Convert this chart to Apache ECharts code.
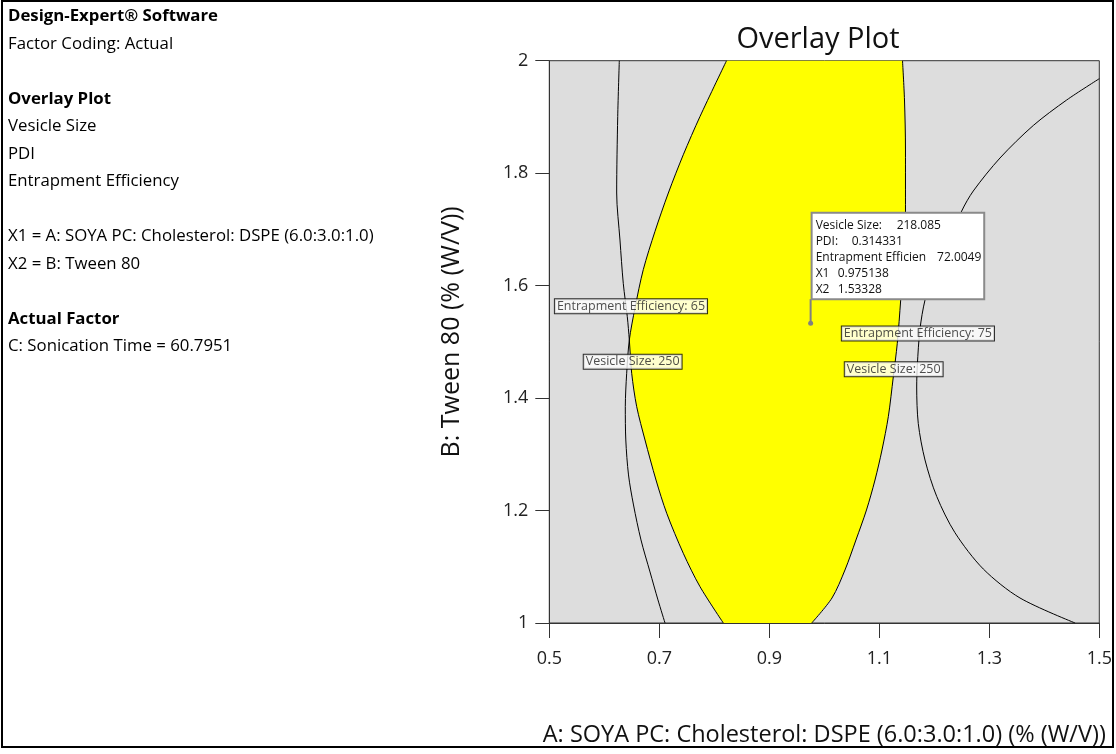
<!DOCTYPE html>
<html><head><meta charset="utf-8">
<script src="https://cdn.jsdelivr.net/npm/echarts/dist/echarts.min.js"></script>
<style>html,body{margin:0;padding:0;background:#fff}#c{width:1116px;height:754px}</style>
</head><body><div id="c"></div>
<script>
// ---------- data ----------
const xTickValues = [0.5, 0.7, 0.9, 1.1, 1.3, 1.5];
const yTickValues = [1, 1.2, 1.4, 1.6, 1.8, 2];

// far-left contour: upper part (top edge down to the crossing point)
const outerLeftUpper = [
  [0.6273, 2.0], [0.6244, 1.9008], [0.6225, 1.7647], [0.6285, 1.6811], [0.6345, 1.6041],
  [0.6418, 1.5447], [0.6455, 1.5033]
];
// far-left contour: lower part (crossing point down to the bottom edge)
const outerLeftLower = [
  [0.6455, 1.5033], [0.6407, 1.4441], [0.6382, 1.3847], [0.6391, 1.3255], [0.6440, 1.2633],
  [0.6531, 1.2099], [0.6667, 1.1477], [0.6831, 1.0908], [0.6976, 1.0410], [0.7104, 1.0]
];
// left edge of the yellow region: upper part
const feasibleLeftUpper = [
  [0.8222, 2.0], [0.7740, 1.9008], [0.7436, 1.8327], [0.7164, 1.7647], [0.6922, 1.6966],
  [0.6709, 1.6285], [0.6558, 1.5602], [0.6455, 1.5033]
];
// left edge of the yellow region: lower part
const feasibleLeftLower = [
  [0.6455, 1.5033], [0.6498, 1.4441], [0.6589, 1.3847], [0.6740, 1.3255], [0.6940, 1.2543],
  [0.7135, 1.1951], [0.7436, 1.1240], [0.7740, 1.0646], [0.8164, 1.0]
];
// right edge of the yellow region
const feasibleRight = [
  [1.1422, 2.0], [1.1458, 1.9301], [1.1476, 1.8412], [1.1476, 1.7309], [1.1440, 1.6456],
  [1.1389, 1.5744], [1.1327, 1.4974], [1.1255, 1.4380], [1.1164, 1.3669], [1.1049, 1.3077],
  [1.0922, 1.2543], [1.0767, 1.2010], [1.0576, 1.1477], [1.0376, 1.0943], [1.0140, 1.0445],
  [0.9771, 1.0]
];
// big arc on the right
const contourRightArc = [
  [1.5, 1.968], [1.4407, 1.9301], [1.3800, 1.8848], [1.3195, 1.8270], [1.2709, 1.7683],
  [1.2498, 1.7327], [1.2195, 1.6634], [1.1958, 1.6100], [1.1831, 1.5744], [1.1740, 1.5229],
  [1.1691, 1.4579], [1.1680, 1.4197], [1.1709, 1.3546], [1.1831, 1.2899], [1.2044, 1.2251],
  [1.2376, 1.1606], [1.2891, 1.0960], [1.3558, 1.0445], [1.4560, 1.0]
];

const contourLabelText = ['Entrapment Efficiency: 65', 'Vesicle Size: 250', 'Entrapment Efficiency: 75', 'Vesicle Size: 250'];
const contourLabelX = [0.6485, 0.6516, 1.1702, 1.1262];
const contourLabelY = [1.5634, 1.4645, 1.5150, 1.4514];

const flagX1 = 0.975138;
const flagX2 = 1.53328;
const flagNames = ['Vesicle Size:', 'PDI:', 'Entrapment Efficien', 'X1', 'X2'];
const flagValues = ['218.085', '0.314331', '72.0049', '0.975138', '1.53328'];

const panelLines = [
  ['Design-Expert\u00AE Software', true], ['Factor Coding: Actual', false], ['', false],
  ['Overlay Plot', true], ['Vesicle Size', false], ['PDI', false], ['Entrapment Efficiency', false], ['', false],
  ['X1 = A: SOYA PC: Cholesterol: DSPE (6.0:3.0:1.0)', false], ['X2 = B: Tween 80', false], ['', false],
  ['Actual Factor', true], ['C: Sonication Time = 60.7951', false]
];
const chartTitle = 'Overlay Plot';
const xAxisName = 'A: SOYA PC: Cholesterol: DSPE (6.0:3.0:1.0) (% (W/V))';
const yAxisName = 'B: Tween 80 (% (W/V))';

// ---------- chart ----------
const FONT = 'Open Sans';
const chart = echarts.init(document.getElementById('c'), null, {renderer: 'canvas'});

const panelGraphics = [];
panelLines.forEach((l, idx) => {
  if (l[0] === '') return;
  panelGraphics.push({
    type: 'text', x: 8, y: 16.7 + idx * 27.5, silent: true,
    style: {text: l[0], fontFamily: FONT, fontSize: 16.8, fontWeight: l[1] ? 'bold' : 'normal',
      fill: '#000', verticalAlign: 'middle'}
  });
});

const fmt = v => String(parseFloat(v.toFixed(2)));

const lineSeries = (data) => ({
  type: 'line', data: data, smooth: 0.3, showSymbol: false, symbol: 'none', silent: true,
  lineStyle: {color: '#000', width: 1}, z: 3, clip: true
});

const option = {
  animation: false,
  backgroundColor: '#fff',
  grid: {show: true, left: 549.3, top: 60.7, right: 16.7, bottom: 131, containLabel: false,
    outerBoundsMode: 'none', backgroundColor: '#DDDDDD', borderColor: '#333', borderWidth: 1},
  xAxis: {
    type: 'value', min: 0.5, max: 1.5, interval: 0.2,
    axisLine: {show: true, onZero: false, lineStyle: {color: '#333', width: 1}},
    axisTick: {show: true, length: 15, lineStyle: {color: '#333'}},
    axisLabel: {margin: 27, fontSize: 18, color: '#222', fontFamily: FONT, showMinLabel: true, showMaxLabel: true,
      hideOverlap: false, formatter: v => fmt(v)},
    splitLine: {show: false},
    name: xAxisName, nameLocation: 'middle', nameGap: 100,
    nameTextStyle: {fontSize: 23.5, color: '#111', fontFamily: FONT}
  },
  yAxis: {
    type: 'value', min: 1, max: 2, interval: 0.2,
    axisLine: {show: true, onZero: false, lineStyle: {color: '#333', width: 1}},
    axisTick: {show: true, length: 14, lineStyle: {color: '#333'}},
    axisLabel: {margin: 21, fontSize: 18, color: '#222', fontFamily: FONT, showMinLabel: true, showMaxLabel: true,
      hideOverlap: false, formatter: v => fmt(v)},
    splitLine: {show: false},
    name: yAxisName, nameLocation: 'middle', nameGap: 85,
    nameTextStyle: {fontSize: 25, color: '#111', fontFamily: FONT, padding: [0, 0, 0, 20]}
  },
  series: [
    {
      type: 'custom', coordinateSystem: 'cartesian2d', silent: true, z: 2,
      data: [[0.9, 1.5]],
      renderItem: (params, api) => {
        const left = feasibleLeftUpper.concat(feasibleLeftLower.slice(1));
        const pts = left.map(p => api.coord(p))
          .concat(feasibleRight.slice().reverse().map(p => api.coord(p)));
        return {type: 'polygon', shape: {points: pts, smooth: 0}, style: {fill: '#FFFF00', stroke: null}};
      }
    },
    lineSeries(outerLeftUpper.concat(feasibleLeftLower.slice(1))),
    lineSeries(feasibleLeftUpper.concat(outerLeftLower.slice(1))),
    lineSeries(feasibleRight),
    lineSeries(contourRightArc),
    {
      type: 'scatter', symbolSize: 0, silent: true, z: 5,
      data: contourLabelText.map((t, i) => ({name: t, value: [contourLabelX[i], contourLabelY[i]]})),
      label: {show: true, position: 'inside', formatter: p => p.name, fontFamily: FONT, fontSize: 12.5,
        color: '#222', backgroundColor: '#fff', borderColor: '#000', borderWidth: 1,
        padding: [0, 2, 0, 2], lineHeight: 14}
    },
    {
      type: 'custom', coordinateSystem: 'cartesian2d', silent: true, z: 6,
      data: [[flagX1, flagX2]],
      renderItem: (params, api) => {
        const pt = api.coord([api.value(0), api.value(1)]);
        const children = [
          {type: 'line', shape: {x1: pt[0], y1: pt[1], x2: pt[0], y2: pt[1] - 24}, style: {stroke: '#808080', lineWidth: 2}},
          {type: 'circle', shape: {cx: pt[0], cy: pt[1], r: 2.5}, style: {fill: '#808080'}},
          {type: 'rect', shape: {x: pt[0] + 1, y: pt[1] - 110.4, width: 172.6, height: 86.6},
            style: {fill: '#fff', stroke: '#8a8a8a', lineWidth: 2}}
        ];
        const valOffsets = [86, 41, 126.4, 27, 27];
        flagNames.forEach((n, i) => {
          const ty = pt[1] - 98 + i * 16.2;
          children.push({type: 'text', x: pt[0] + 5, y: ty,
            style: {text: n, fontFamily: FONT, fontSize: 12, fill: '#111', verticalAlign: 'middle'}});
          children.push({type: 'text', x: pt[0] + valOffsets[i], y: ty,
            style: {text: flagValues[i], fontFamily: FONT, fontSize: 12, fill: '#111', verticalAlign: 'middle'}});
        });
        return {type: 'group', children: children};
      }
    }
  ],
  graphic: [
    {type: 'rect', shape: {x: 2, y: 1, width: 1111, height: 746}, style: {fill: null, stroke: '#000', lineWidth: 2}, z: 0, silent: true},
    {type: 'text', x: 818, y: 40, silent: true, style: {text: chartTitle, fontFamily: FONT, fontSize: 29, fill: '#111',
      align: 'center', verticalAlign: 'middle'}, z: 10}
  ].concat(panelGraphics)
};
chart.setOption(option);
</script>
</body></html>
